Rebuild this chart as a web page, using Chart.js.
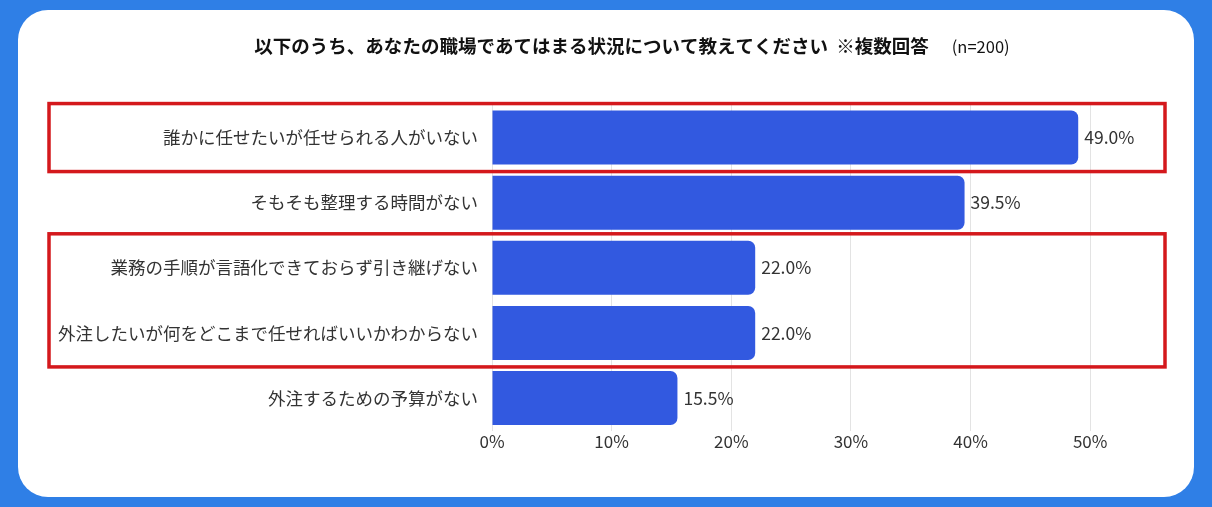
<!DOCTYPE html>
<html>
<head>
<meta charset="utf-8">
<script src="https://cdn.jsdelivr.net/npm/chart.js@4.4.0/dist/chart.umd.min.js"></script>
<style>
    html, body { margin: 0; padding: 0; }
    body { width: 1212px; height: 507px; background: #2f7fe6; position: relative; overflow: hidden; }
    #card { position: absolute; left: 18px; top: 10px; width: 1176px; height: 487px; background: #ffffff; border-radius: 30px; overflow: hidden; }
    #chart { display: block; }
</style>
</head>
<body>
<div id="card"><canvas id="chart" width="1176" height="487"></canvas></div>
<script>
const categories = [
    '誰かに任せたいが任せられる人がいない',
    'そもそも整理する時間がない',
    '業務の手順が言語化できておらず引き継げない',
    '外注したいが何をどこまで任せればいいかわからない',
    '外注するための予算がない'
];
const values = [49.0, 39.5, 22.0, 22.0, 15.5];
const highlightGroups = [[0, 0], [2, 3]];
const titleMain = '以下のうち、あなたの職場であてはまる状況について教えてください  ※複数回答';
const titleNote = '(n=200)';

const fontFamily = '"Noto Sans CJK JP", "Noto Sans", sans-serif';

const titlePlugin = {
    id: 'titleText',
    afterDraw(chart) {
        const ctx = chart.ctx;
        ctx.save();
        ctx.fillStyle = '#111111';
        ctx.textBaseline = 'middle';
        ctx.font = 'bold 18.5px ' + fontFamily;
        const w1 = ctx.measureText(titleMain).width;
        ctx.font = '16.5px ' + fontFamily;
        const w2 = ctx.measureText(titleNote).width;
        const gap = 23;
        let x = (chart.width - (w1 + gap + w2)) / 2 + 26;
        ctx.font = 'bold 18.5px ' + fontFamily;
        ctx.textAlign = 'left';
        ctx.fillText(titleMain, x, 36);
        ctx.font = '16.5px ' + fontFamily;
        ctx.fillText(titleNote, x + w1 + gap, 37);
        ctx.restore();
    }
};

const valueLabels = {
    id: 'valueLabels',
    afterDatasetsDraw(chart) {
        const ctx = chart.ctx;
        const meta = chart.getDatasetMeta(0);
        ctx.save();
        ctx.fillStyle = '#333333';
        ctx.font = '17.5px ' + fontFamily;
        ctx.textAlign = 'left';
        ctx.textBaseline = 'middle';
        meta.data.forEach((bar, i) => {
            ctx.fillText(values[i].toFixed(1) + '%', bar.x + 6, bar.y);
        });
        ctx.restore();
    }
};

const highlightBoxes = {
    id: 'highlightBoxes',
    afterDraw(chart) {
        const ctx = chart.ctx;
        const y = chart.scales.y;
        const area = chart.chartArea;
        ctx.save();
        ctx.strokeStyle = '#d4181c';
        ctx.lineWidth = 3.5;
        highlightGroups.forEach(([a, b]) => {
            const top = y.getPixelForValue(a) - 34;
            const bottom = y.getPixelForValue(b) + 34;
            ctx.strokeRect(31, top, area.right + 15 - 31, bottom - top);
        });
        ctx.restore();
    }
};

new Chart(document.getElementById('chart').getContext('2d'), {
    type: 'bar',
    data: {
        labels: categories,
        datasets: [{
            data: values,
            backgroundColor: '#3259e0',
            borderRadius: { topRight: 7, bottomRight: 7, topLeft: 0, bottomLeft: 0 },
            borderSkipped: false,
            categoryPercentage: 1,
            barPercentage: 0.83
        }]
    },
    options: {
        indexAxis: 'y',
        responsive: false,
        animation: false,
        layout: { padding: { top: 95, right: 44, bottom: 44, left: 10 } },
        scales: {
            x: {
                min: 0,
                max: 55,
                grid: {
                    color: (c) => (c.tick && c.tick.value % 10 === 0) ? '#e3e3e3' : 'rgba(0,0,0,0)',
                    drawTicks: false
                },
                border: { display: false },
                ticks: {
                    stepSize: 10,
                    color: '#333333',
                    padding: 1,
                    font: { family: fontFamily, size: 17 },
                    callback: (v) => v % 10 === 0 ? v + '%' : ''
                }
            },
            y: {
                afterFit(scale) { scale.width = 464; },
                grid: { display: false, drawTicks: false },
                border: { display: false },
                ticks: {
                    color: '#333333',
                    padding: 14,
                    font: { family: fontFamily, size: 17.5 }
                }
            }
        },
        plugins: {
            legend: { display: false },
            tooltip: { enabled: false }
        }
    },
    plugins: [titlePlugin, valueLabels, highlightBoxes]
});
</script>
</body>
</html>
